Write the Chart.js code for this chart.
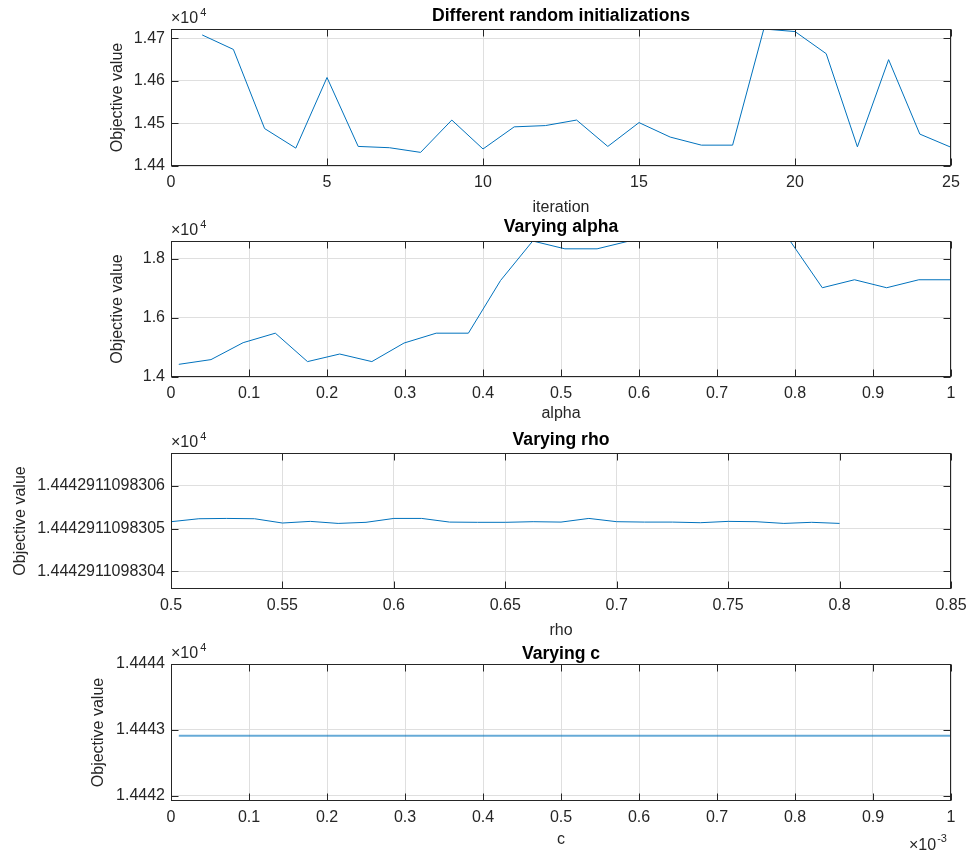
<!DOCTYPE html>
<html>
<head>
<meta charset="utf-8">
<script src="https://cdn.jsdelivr.net/npm/chart.js@4.4.0/dist/chart.umd.min.js"></script>
<style>
  html, body { margin: 0; padding: 0; background: #fff; }
  #wrap { position: relative; width: 968px; height: 853px; }
  canvas { position: absolute; left: 0; }
</style>
</head>
<body>
<div id="wrap">
  <canvas id="chart1"></canvas>
  <canvas id="chart2"></canvas>
  <canvas id="chart3"></canvas>
  <canvas id="chart4"></canvas>
</div>
<script>
// ---- data ----
const iterations = [1, 2, 3, 4, 5, 6, 7, 8, 9, 10, 11, 12, 13, 14, 15, 16, 17, 18, 19, 20, 21, 22, 23, 24, 25];
const initObjective = [14708, 14674, 14488, 14442, 14608, 14446, 14443, 14432, 14508, 14440, 14492, 14495, 14508,
                       14446, 14502, 14468, 14449, 14449, 14722, 14716, 14664, 14445, 14650, 14475, 14444];

const alphaValues = [0.01, 0.05125, 0.0925, 0.13375, 0.175, 0.21625, 0.2575, 0.29875, 0.34, 0.38125, 0.4225, 0.46375, 0.505,
                     0.54625, 0.5875, 0.62875, 0.67, 0.71125, 0.7525, 0.79375, 0.835, 0.87625, 0.9175, 0.95875, 1];
const alphaObjective = [14428, 14587, 15160, 15480, 14520, 14776, 14520, 15147, 15480, 15480, 17260, 18594, 18330,
                        18330, 18594, 18594, 18594, 18594, 18594, 18594, 17015, 17285, 17015, 17285, 17285];

const rhoValues = [0.5, 0.5125, 0.525, 0.5375, 0.55, 0.5625, 0.575, 0.5875, 0.6, 0.6125, 0.625, 0.6375, 0.65,
                   0.6625, 0.675, 0.6875, 0.7, 0.7125, 0.725, 0.7375, 0.75, 0.7625, 0.775, 0.7875, 0.8];
const rhoObjective = [14442.911098305163, 14442.911098305233, 14442.91109830524, 14442.911098305233, 14442.911098305133,
                      14442.911098305171, 14442.911098305124, 14442.911098305148, 14442.91109830524, 14442.91109830524,
                      14442.911098305155, 14442.911098305148, 14442.911098305148, 14442.911098305163, 14442.911098305155,
                      14442.91109830524, 14442.911098305163, 14442.911098305155, 14442.911098305155, 14442.91109830514,
                      14442.911098305171, 14442.911098305163, 14442.911098305124, 14442.911098305148, 14442.911098305124];
const rhoBase = 14442.911098305;
const rhoTickLabels = ['1.4442911098304', '1.4442911098305', '1.4442911098306'];

const cValues = [0.00001, 0.00005125, 0.0000925, 0.00013375, 0.000175, 0.00021625, 0.0002575, 0.00029875, 0.00034,
                 0.00038125, 0.0004225, 0.00046375, 0.000505, 0.00054625, 0.0005875, 0.00062875, 0.00067, 0.00071125,
                 0.0007525, 0.00079375, 0.000835, 0.00087625, 0.0009175, 0.00095875, 0.001];
const cObjective = [14442.911, 14442.911, 14442.911, 14442.911, 14442.911, 14442.911, 14442.911, 14442.911, 14442.911,
                    14442.911, 14442.911, 14442.911, 14442.911, 14442.911, 14442.911, 14442.911, 14442.911, 14442.911,
                    14442.911, 14442.911, 14442.911, 14442.911, 14442.911, 14442.911, 14442.911];

// tick positions
const iterTicks = [0, 5, 10, 15, 20, 25];
const initTicks = [14400, 14500, 14600, 14700];
const alphaTicks = [0, 0.1, 0.2, 0.3, 0.4, 0.5, 0.6, 0.7, 0.8, 0.9, 1];
const alphaObjTicks = [14000, 16000, 18000];
const rhoTicks = [0.5, 0.55, 0.6, 0.65, 0.7, 0.75, 0.8, 0.85];
const rhoObjTicks = [-1, 0, 1];   // offsets from rhoBase, in 1e-9
const cTicks = [0, 0.0001, 0.0002, 0.0003, 0.0004, 0.0005, 0.0006, 0.0007, 0.0008, 0.0009, 0.001];
const cObjTicks = [14442, 14443, 14444];

// ---- styling ----
const fontFamily = '"Liberation Sans", Arial, Helvetica, sans-serif';
const axisColor = '#262626';
const gridColor = '#dfdfdf';
const lineColor = '#0072BD';

const plain = (v, d) => String(+v.toFixed(d));

const panels = [
  {
    id: 'chart1', top: 0, height: 221, padTop: 29, padLeft: 104, xAxisHeight: 55, titleGap: 13,
    title: 'Different random initializations', xLabel: 'iteration',
    points: iterations.map((x, i) => ({x: x, y: initObjective[i]})),
    xMin: 0, xMax: 25, yMin: 14400, yMax: 14722,
    xTicks: iterTicks, yTicks: initTicks,
    xFmt: v => plain(v, 0), yFmt: v => (v / 1e4).toFixed(2), yExp: '4'
  },
  {
    id: 'chart2', top: 211, height: 216, padTop: 30, padLeft: 104, xAxisHeight: 50, titleGap: 14,
    title: 'Varying alpha', xLabel: 'alpha',
    points: alphaValues.map((x, i) => ({x: x, y: alphaObjective[i]})),
    xMin: 0, xMax: 1, yMin: 14000, yMax: 18594,
    xTicks: alphaTicks, yTicks: alphaObjTicks,
    xFmt: v => plain(v, 2), yFmt: v => (v / 1e4).toFixed(1), yExp: '4'
  },
  {
    id: 'chart3', top: 417, height: 227, padTop: 36, padLeft: 7, xAxisHeight: 55, titleGap: 13,
    title: 'Varying rho', xLabel: 'rho',
    points: rhoValues.map((x, i) => ({x: x, y: (rhoObjective[i] - rhoBase) * 1e9})),
    xMin: 0.5, xMax: 0.85, yMin: -1.41, yMax: 1.77,
    xTicks: rhoTicks, yTicks: rhoObjTicks,
    xFmt: v => plain(v, 2), yFmt: (v, i) => rhoTickLabels[i], yExp: '4'
  },
  {
    id: 'chart4', top: 634, height: 219, padTop: 30, padLeft: 85, xAxisHeight: 52, titleGap: 10,
    title: 'Varying c', xLabel: 'c',
    points: cValues.map((x, i) => ({x: x, y: cObjective[i]})),
    xMin: 0, xMax: 0.001, yMin: 14441.92, yMax: 14444,
    xTicks: cTicks, yTicks: cObjTicks,
    xFmt: v => plain(v * 1e3, 1), yFmt: v => (v / 1e4).toFixed(4), yExp: '4', xExp: '-3',
    lineWidth: 2, lineColor: 'rgba(0, 114, 189, 0.6)'
  }
];

// MATLAB-like box, inward ticks, title and exponent labels
function matlabAxes(p) {
  return {
    id: 'matlabAxes',
    afterDraw(chart) {
      const {ctx, chartArea: a, scales} = chart;
      const L = Math.round(a.left) + 0.5, R = Math.round(a.right) - 0.5;
      const T = Math.round(a.top) + 0.5, B = Math.round(a.bottom) - 0.5;
      ctx.save();
      ctx.strokeStyle = axisColor;
      ctx.lineWidth = 1;
      ctx.beginPath();
      scales.x.ticks.forEach(t => {
        const px = Math.round(scales.x.getPixelForValue(t.value)) + 0.5;
        ctx.moveTo(px, B); ctx.lineTo(px, B - 7);
        ctx.moveTo(px, T); ctx.lineTo(px, T + 7);
      });
      scales.y.ticks.forEach(t => {
        const py = Math.round(scales.y.getPixelForValue(t.value)) + 0.5;
        ctx.moveTo(L, py); ctx.lineTo(L + 7, py);
        ctx.moveTo(R, py); ctx.lineTo(R - 7, py);
      });
      ctx.stroke();
      ctx.strokeRect(L, T, R - L, B - T);

      ctx.fillStyle = '#000';
      ctx.font = 'bold 17.6px ' + fontFamily;
      ctx.textAlign = 'center';
      ctx.textBaseline = 'middle';
      ctx.fillText(p.title, (a.left + a.right) / 2, a.top - p.titleGap);

      ctx.fillStyle = axisColor;
      ctx.textAlign = 'left';
      ctx.textBaseline = 'alphabetic';
      if (p.yExp) {
        ctx.font = '16px ' + fontFamily;
        ctx.fillText('\u00d710', a.left, a.top - 6);
        const w = ctx.measureText('\u00d710').width;
        ctx.font = '11px ' + fontFamily;
        ctx.fillText(p.yExp, a.left + w + 2, a.top - 13);
      }
      if (p.xExp) {
        ctx.font = '16px ' + fontFamily;
        const x0 = a.right - 42;
        ctx.fillText('\u00d710', x0, a.bottom + 49);
        const w = ctx.measureText('\u00d710').width;
        ctx.font = '11px ' + fontFamily;
        ctx.fillText(p.xExp, x0 + w + 1, a.bottom + 41);
      }
      ctx.restore();
    }
  };
}

function createChart(p) {
  const canvas = document.getElementById(p.id);
  canvas.width = 968;
  canvas.height = p.height;
  canvas.style.top = p.top + 'px';
  const tickFont = {family: fontFamily, size: 16};

  new Chart(canvas.getContext('2d'), {
    type: 'line',
    data: {
      datasets: [{
        data: p.points,
        borderColor: p.lineColor || lineColor,
        borderWidth: p.lineWidth || 1,
        pointRadius: 0,
        tension: 0,
        fill: false
      }]
    },
    options: {
      responsive: false,
      animation: false,
      devicePixelRatio: 1,
      layout: { padding: { top: p.padTop, left: p.padLeft, right: 17, bottom: 0 } },
      plugins: { legend: { display: false }, tooltip: { enabled: false }, title: { display: false } },
      scales: {
        x: {
          type: 'linear',
          min: p.xMin, max: p.xMax,
          afterBuildTicks: axis => { axis.ticks = p.xTicks.map(v => ({value: v})); },
          afterFit: axis => { axis.height = p.xAxisHeight; axis.paddingLeft = 0; axis.paddingRight = 0; },
          grid: { color: gridColor, drawTicks: false },
          border: { display: false },
          ticks: {
            autoSkip: false, maxRotation: 0, padding: 7,
            color: axisColor, font: tickFont,
            callback: (v) => p.xFmt(v)
          },
          title: { display: true, text: p.xLabel, color: axisColor, font: tickFont, padding: 4 }
        },
        y: {
          type: 'linear',
          min: p.yMin, max: p.yMax,
          afterBuildTicks: axis => { axis.ticks = p.yTicks.map(v => ({value: v})); },
          afterFit: axis => { axis.width = 171 - p.padLeft; axis.paddingTop = 0; axis.paddingBottom = 0; },
          grid: { color: gridColor, drawTicks: false },
          border: { display: false },
          ticks: {
            autoSkip: false, padding: 6,
            color: axisColor, font: tickFont,
            callback: (v, i) => p.yFmt(v, i)
          },
          title: { display: true, text: 'Objective value', color: axisColor, font: tickFont, padding: 4 }
        }
      }
    },
    plugins: [matlabAxes(p)]
  });
}

panels.forEach(createChart);
</script>
</body>
</html>
